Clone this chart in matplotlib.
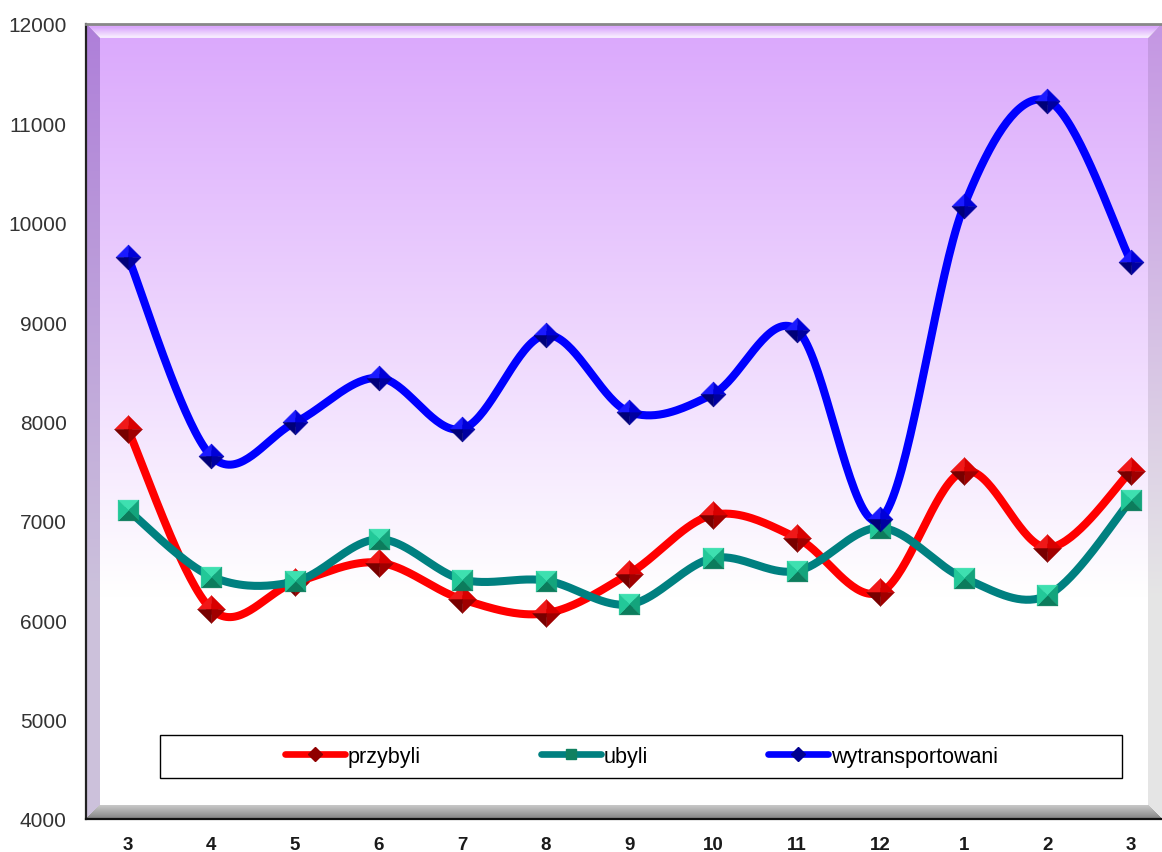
import numpy as np
import matplotlib.pyplot as plt
from matplotlib.lines import Line2D
from matplotlib.patches import Rectangle
from matplotlib.path import Path

plt.rcParams['font.family'] = ['Liberation Sans', 'DejaVu Sans']

# data
months = ['3', '4', '5', '6', '7', '8', '9', '10', '11', '12', '1', '2', '3']
przybyli = [7920, 6110, 6380, 6580, 6210, 6070, 6470, 7060, 6830, 6280, 7500, 6730, 7500]
ubyli = [7110, 6440, 6390, 6815, 6410, 6400, 6160, 6625, 6495, 6930, 6425, 6250, 7210]
wytransportowani = [9660, 7650, 7990, 8440, 7925, 8870, 8095, 8275, 8925, 7015, 10165, 11230, 9610]
y_ticks = [4000, 5000, 6000, 7000, 8000, 9000, 10000, 11000, 12000]


def smooth(xs, ys, n=40):
    # Catmull-Rom style smoothing, like Excel's "smoothed line"
    xs = np.asarray(xs, float)
    ys = np.asarray(ys, float)
    px = np.concatenate([[xs[0]], xs, [xs[-1]]])
    py = np.concatenate([[ys[0]], ys, [ys[-1]]])
    outx, outy = [], []
    t = np.linspace(0, 1, n)
    for i in range(1, len(px) - 2):
        p0 = np.array([px[i], py[i]])
        p3 = np.array([px[i + 1], py[i + 1]])
        c1 = p0 + (np.array([px[i + 1], py[i + 1]]) - np.array([px[i - 1], py[i - 1]])) / 6
        c2 = p3 - (np.array([px[i + 2], py[i + 2]]) - np.array([px[i], py[i]])) / 6
        pts = ((1 - t) ** 3)[:, None] * p0 + (3 * (1 - t) ** 2 * t)[:, None] * c1 \
            + (3 * (1 - t) * t ** 2)[:, None] * c2 + (t ** 3)[:, None] * p3
        outx.extend(pts[:, 0])
        outy.extend(pts[:, 1])
    return outx, outy


def tri(v):
    return Path(np.array(v + [v[0]], float), closed=True)


diamond_faces = [tri([(0, 0), (-1, 0), (0, 1)]), tri([(0, 0), (0, 1), (1, 0)]),
                 tri([(0, 0), (1, 0), (0, -1)]), tri([(0, 0), (0, -1), (-1, 0)])]
square_faces = [tri([(0, 0), (-1, 1), (1, 1)]), tri([(0, 0), (1, 1), (1, -1)]),
                tri([(0, 0), (1, -1), (-1, -1)]), tri([(0, 0), (-1, -1), (-1, 1)])]


def pyramid(ax, x, y, faces, colors, ms, z):
    for f, c in zip(faces, colors):
        ax.plot(x, y, ls='none', marker=f, ms=ms, mfc=c, mec=c, mew=0.3, zorder=z)


fig = plt.figure(figsize=(11.62, 8.53), dpi=100)
ax = fig.add_axes([86 / 1162, 33 / 853, 1076 / 1162, 795 / 853])

x = np.arange(len(months))
xlim = (-0.5, -0.5 + 1076 / 83.6)

# gradient background with bevelled frame
H, W, b = 795, 1076, 14
rows = np.arange(H)[:, None]
cols = np.arange(W)[None, :]
purple = np.array([0.855, 0.655, 0.99])
g = np.clip(rows / (H * 0.72), 0, 1)[..., None]
img = np.broadcast_to(purple * (1 - g) + g, (H, W, 3)).copy()
top_m = (rows < b) & (cols >= rows) & (cols < W - rows)
left_m = (cols < b) & (rows >= cols) & (rows < H - cols)
bot_m = (rows >= H - b) & (cols >= H - 1 - rows) & (cols < W - (H - 1 - rows))
right_m = (cols >= W - b) & (rows >= W - 1 - cols) & (rows < H - (W - 1 - cols))
# top bevel: purple with a light band near its inner edge
band = np.broadcast_to(np.clip((rows - 3) / 9.0, 0, 1) * 0.75, (H, W))[..., None]
lit = img * (1 - band) + band
img[top_m] = lit[top_m]
img[left_m] = img[left_m] * np.array([0.8, 0.76, 0.86])
img[right_m] = img[right_m] * 0.9
grey = np.broadcast_to(0.78 - 0.28 * (rows - (H - b)) / b, (H, W))
img[bot_m] = np.stack([grey[bot_m]] * 3, axis=-1)
ax.imshow(img, extent=[xlim[0], xlim[1], 4000, 12000], aspect='auto', origin='upper', zorder=0)

series = [
    (przybyli, 'przybyli', '#ff0000', diamond_faces, ['#f01818', '#d80000', '#a00000', '#780000'], 20, 'D', '#900000', 7.5),
    (ubyli, 'ubyli', '#008080', square_faces, ['#3ee0b0', '#14a47c', '#0c7c5c', '#22c898'], 15, 's', '#108060', 6.5),
    (wytransportowani, 'wytransportowani', '#0000ff', diamond_faces, ['#1a1aff', '#0000d8', '#0000a0', '#000078'], 18, 'D', '#000090', 7),
]
handles = []
for i, (vals, name, col, faces, shades, ms, mk, dark, lms) in enumerate(series):
    sx, sy = smooth(x, vals)
    ax.plot(sx, sy, color=col, lw=5.8, solid_capstyle='round', solid_joinstyle='round', zorder=3 + 2 * i)
    pyramid(ax, x, vals, faces, shades, ms, 4 + 2 * i)
    handles.append(Line2D([], [], color=col, lw=4.8, solid_capstyle='round', marker=mk, ms=lms,
                          mfc=dark, mec=dark, label=name))

ax.set_xlim(*xlim)
ax.set_ylim(4000, 12000)
ax.set_xticks(x)
ax.set_xticklabels(months, fontsize=13.5, fontweight='bold', color='#1a1a1a')
ax.set_yticks(y_ticks)
ax.set_yticklabels([str(v) for v in y_ticks], fontsize=15, color='#333333')
ax.tick_params(axis='y', length=0, pad=14)
ax.tick_params(axis='x', length=0, pad=12)

ax.spines['right'].set_visible(False)
ax.spines['top'].set_color('#888888')
ax.spines['top'].set_linewidth(2)
ax.spines['left'].set_color('#222222')
ax.spines['left'].set_linewidth(1.6)
ax.spines['bottom'].set_color('#111111')
ax.spines['bottom'].set_linewidth(1.6)

# legend box
bx0, by0, bx1, by1 = 0.0688, 0.0516, 0.963, 0.1057
ax.add_patch(Rectangle((bx0, by0), bx1 - bx0, by1 - by0, transform=ax.transAxes,
                       fc='white', ec='black', lw=1, zorder=10))
leg = ax.legend(handles=handles, loc='center', bbox_to_anchor=((bx0 + bx1) / 2, (by0 + by1) / 2),
                ncol=3, frameon=False, fontsize=15.5, handlelength=2.8, handletextpad=0.1,
                columnspacing=5.6)
leg.set_zorder(11)

fig.savefig('out.png', dpi=100)
